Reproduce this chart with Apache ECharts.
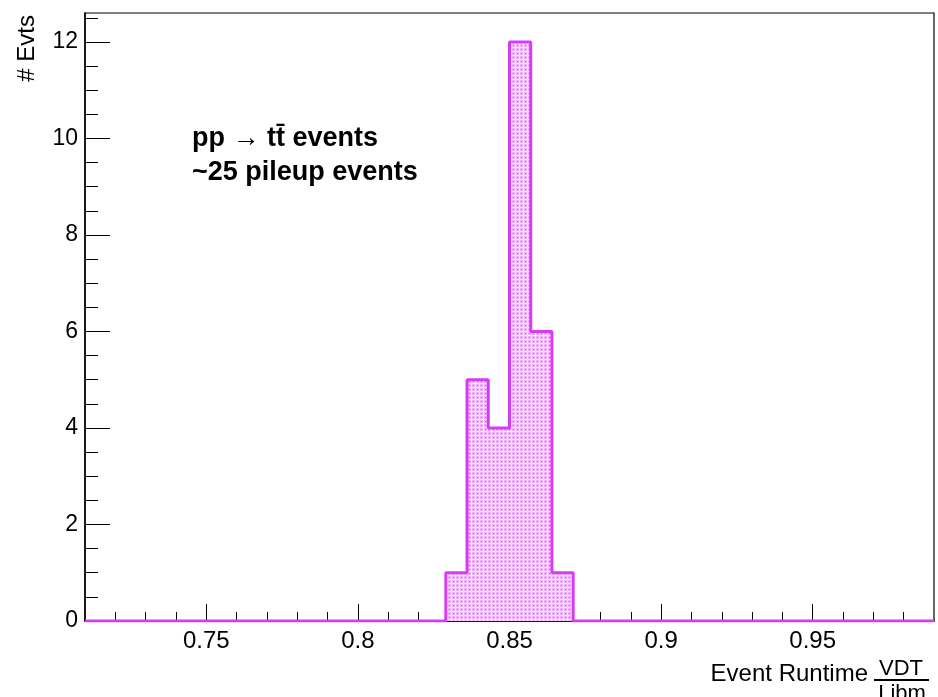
<!DOCTYPE html>
<html>
<head>
<meta charset="utf-8">
<title>Event Runtime VDT / Libm</title>
<script src="https://cdn.jsdelivr.net/npm/echarts@6.0.0/dist/echarts.min.js"></script>
<style>
  html, body { margin: 0; padding: 0; background: #fff; }
  #chart { width: 938px; height: 697px; }
</style>
</head>
<body>
<div id="chart"></div>
<script>
// histogram: 40 bins from 0.71 to 0.99
const xMin = 0.71;
const xMax = 0.99;
const binWidth = 0.007;
const counts = [
  0, 0, 0, 0, 0, 0, 0, 0, 0, 0,
  0, 0, 0, 0, 0, 0, 0, 1, 5, 4,
  12, 6, 1, 0, 0, 0, 0, 0, 0, 0,
  0, 0, 0, 0, 0, 0, 0, 0, 0, 0
];
const yMax = 12.6;

// tick positions (ROOT style major / minor)
const xMajorTicks = [0.75, 0.8, 0.85, 0.9, 0.95];
const xMinorTicks = [0.72, 0.73, 0.74, 0.76, 0.77, 0.78, 0.79, 0.81, 0.82, 0.83, 0.84,
  0.86, 0.87, 0.88, 0.89, 0.91, 0.92, 0.93, 0.94, 0.96, 0.97, 0.98];
const yMajorTicks = [0, 2, 4, 6, 8, 10, 12];
const yMinorTicks = [0.5, 1, 1.5, 2.5, 3, 3.5, 4.5, 5, 5.5, 6.5, 7, 7.5,
  8.5, 9, 9.5, 10.5, 11, 11.5, 12.5];

const lineColor = '#d63cf5';
const font = '"Liberation Sans", Arial, sans-serif';

// step outline points: left edge of every bin, plus closing right edge
const stepData = counts.map((c, i) => [xMin + i * binWidth, c]);
stepData.push([xMax, counts[counts.length - 1]]);

// dotted fill like ROOT's fill style 3001
function dotPattern() {
  const c = document.createElement('canvas');
  c.width = 4;
  c.height = 4;
  const g = c.getContext('2d');
  g.fillStyle = '#fae6fe';
  g.fillRect(0, 0, 4, 4);
  g.fillStyle = '#efb2fa';
  g.fillRect(0, 0, 3, 3);
  g.fillStyle = '#da58f6';
  g.fillRect(1, 1, 1, 1);
  return c;
}

function xAxisCfg(ticks, len, withLabels) {
  return {
    type: 'value',
    position: 'bottom',
    min: xMin,
    max: xMax,
    splitLine: { show: false },
    axisLine: { show: withLabels, onZero: false, lineStyle: { color: '#000', width: 1.5 } },
    axisTick: { inside: true, length: len, customValues: ticks, lineStyle: { color: '#000', width: 1 } },
    axisLabel: {
      show: withLabels,
      customValues: ticks,
      margin: 8,
      color: '#000',
      fontSize: 24,
      fontFamily: font
    }
  };
}

function yAxisCfg(ticks, len, withLabels) {
  return {
    type: 'value',
    position: 'left',
    min: 0,
    max: yMax,
    splitLine: { show: false },
    axisLine: { show: withLabels, onZero: false, lineStyle: { color: '#000', width: 1.5 } },
    axisTick: { inside: true, length: len, customValues: ticks, lineStyle: { color: '#000', width: 1 } },
    axisLabel: {
      show: withLabels,
      customValues: ticks,
      margin: 7,
      color: '#000',
      fontSize: 23,
      fontFamily: font
    }
  };
}

const chart = echarts.init(document.getElementById('chart'));

const option = {
  animation: false,
  backgroundColor: '#fff',
  grid: {
    left: 85,
    right: 4,
    top: 13,
    bottom: 76,
    show: true,
    borderColor: '#000',
    borderWidth: 1.2
  },
  xAxis: [
    xAxisCfg(xMajorTicks, 17, true),
    xAxisCfg(xMinorTicks, 9, false)
  ],
  yAxis: [
    yAxisCfg(yMajorTicks, 25, true),
    yAxisCfg(yMinorTicks, 13, false)
  ],
  series: [
    {
      name: 'Evts',
      type: 'line',
      xAxisIndex: 0,
      yAxisIndex: 0,
      step: 'end',
      data: stepData,
      symbol: 'none',
      lineStyle: { color: lineColor, width: 3 },
      areaStyle: { color: { image: dotPattern(), repeat: 'repeat' }, opacity: 1 },
      z: 3
    }
  ],
  graphic: [
    {
      type: 'text',
      x: 192,
      y: 139,
      style: {
        text: 'pp \u2192 tt\u0304 events',
        font: 'bold 27px ' + font,
        fill: '#000',
        verticalAlign: 'middle'
      }
    },
    {
      type: 'text',
      x: 192,
      y: 173,
      style: {
        text: '~25 pileup events',
        font: 'bold 27px ' + font,
        fill: '#000',
        verticalAlign: 'middle'
      }
    },
    {
      type: 'text',
      x: 27,
      y: 15,
      rotation: Math.PI / 2,
      style: {
        text: '# Evts',
        font: '24px ' + font,
        fill: '#000',
        align: 'right',
        verticalAlign: 'middle'
      }
    },
    {
      type: 'text',
      x: 868,
      y: 674,
      style: {
        text: 'Event Runtime',
        font: '24px ' + font,
        fill: '#000',
        align: 'right',
        verticalAlign: 'middle'
      }
    },
    {
      type: 'text',
      x: 901,
      y: 669,
      style: {
        text: 'VDT',
        font: '22px ' + font,
        fill: '#000',
        align: 'center',
        verticalAlign: 'middle'
      }
    },
    {
      type: 'line',
      shape: { x1: 874, y1: 680, x2: 929, y2: 680 },
      style: { stroke: '#000', lineWidth: 2 }
    },
    {
      type: 'text',
      x: 902,
      y: 694,
      style: {
        text: 'Libm',
        font: '22px ' + font,
        fill: '#000',
        align: 'center',
        verticalAlign: 'middle'
      }
    }
  ]
};

chart.setOption(option);
</script>
</body>
</html>
